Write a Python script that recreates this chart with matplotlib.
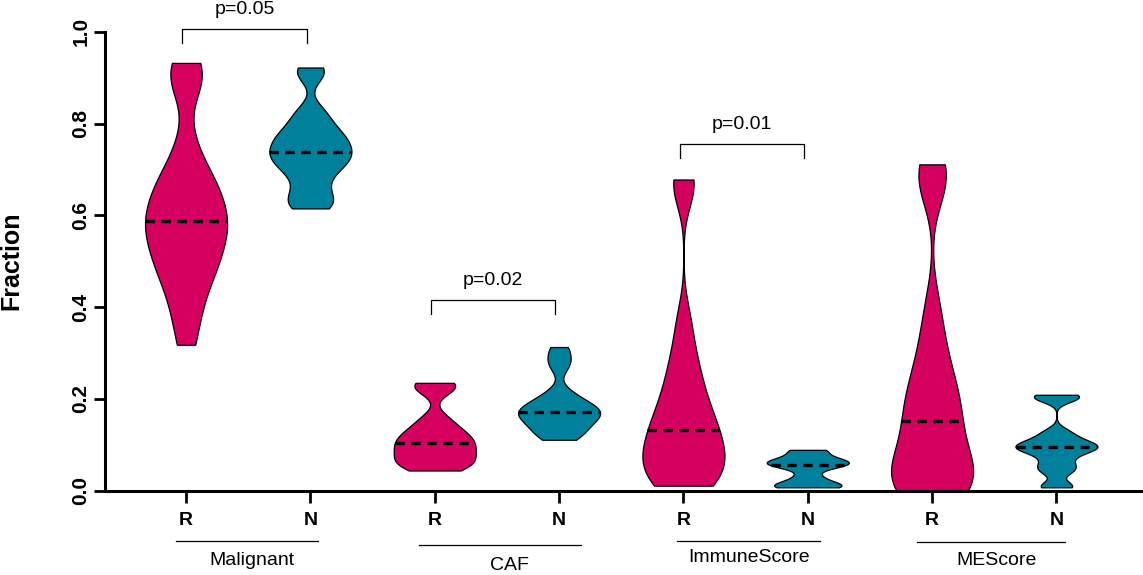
import numpy as np
import matplotlib
matplotlib.use("Agg")
import matplotlib.pyplot as plt
from matplotlib import mlab

plt.rcParams['font.family'] = ['Liberation Sans', 'DejaVu Sans']

# ---- data (fractions per sample) ----
categories = ["Malignant", "CAF", "ImmuneScore", "MEScore"]
groups = ["R", "N"]

malignant_R = [0.318, 0.38, 0.42, 0.46, 0.48, 0.50, 0.52, 0.54, 0.56, 0.575,
               0.587, 0.60, 0.62, 0.64, 0.66, 0.68, 0.70, 0.76, 0.88, 0.91, 0.932]
malignant_N = [0.615, 0.625, 0.64, 0.66, 0.685, 0.70, 0.712, 0.722, 0.73, 0.738,
               0.748, 0.758, 0.768, 0.778, 0.79, 0.81, 0.83, 0.905, 0.922]
caf_R = [0.044, 0.052, 0.058, 0.065, 0.073, 0.081, 0.09, 0.098, 0.105, 0.112,
         0.12, 0.13, 0.142, 0.16, 0.22, 0.23, 0.235]
caf_N = [0.111, 0.12, 0.13, 0.14, 0.148, 0.156, 0.163, 0.168, 0.172, 0.177,
         0.183, 0.19, 0.20, 0.215, 0.27, 0.29, 0.313]
immune_R = [0.011, 0.018, 0.028, 0.04, 0.055, 0.07, 0.085, 0.10, 0.118, 0.133,
            0.15, 0.17, 0.195, 0.225, 0.26, 0.30, 0.37, 0.66, 0.678]
immune_N = [0.0074, 0.008, 0.01, 0.014, 0.022, 0.033, 0.05, 0.055, 0.058, 0.061,
            0.064, 0.068, 0.074, 0.087, 0.089]
mescore_R = [0.0, 0.0, 0.004, 0.01, 0.02, 0.035, 0.055, 0.075, 0.095, 0.12,
             0.152, 0.17, 0.19, 0.215, 0.245, 0.28, 0.33, 0.40, 0.66, 0.69, 0.711]
mescore_N = [0.0074, 0.012, 0.04, 0.05, 0.06, 0.075, 0.085, 0.09, 0.095, 0.098,
             0.102, 0.108, 0.118, 0.13, 0.20, 0.205, 0.209]

series = [malignant_R, malignant_N, caf_R, caf_N, immune_R, immune_N, mescore_R, mescore_N]
bandwidths = [0.05, 0.022, 0.018, 0.018, 0.05, 0.009, 0.06, 0.011]

p_labels = ["p=0.05", "p=0.02", "p=0.01"]
p_pairs = [(0, 1), (2, 3), (4, 5)]
p_heights = [1.006, 0.416, 0.755]

colors = {"R": "#D5005F", "N": "#00809A"}

fig = plt.figure(figsize=(11.43, 5.75), dpi=100)
ax = fig.add_axes([105 / 1143, 1 - 490.7 / 575, (1141 - 105) / 1143, (490.7 - 31.7) / 575])

vw = 0.66
positions = np.arange(len(series))
for i, (vals, h) in enumerate(zip(series, bandwidths)):
    vals = np.asarray(vals, dtype=float)
    fac = h / np.std(vals, ddof=1)
    col = colors[groups[i % 2]]
    parts = ax.violinplot([vals], positions=[i], widths=vw, showextrema=False,
                          bw_method=fac, points=200)
    for b in parts['bodies']:
        b.set_facecolor(col)
        b.set_edgecolor('black')
        b.set_linewidth(0.9)
        b.set_alpha(1)
    kde = mlab.GaussianKDE(vals, bw_method=fac)
    ys = np.linspace(vals.min(), vals.max(), 200)
    dmax = kde.evaluate(ys).max()
    med = np.median(vals)
    half = kde.evaluate([med])[0] / dmax * vw / 2
    ax.plot([i - half, i + half], [med, med], color='black', lw=2.4,
            ls=(0, (2.8, 2.0)), solid_capstyle='butt', dash_capstyle='butt')

ax.set_xlim(-0.652, 7.68)
ax.set_ylim(0, 1.0)
for s in ['top', 'right']:
    ax.spines[s].set_visible(False)
for s in ['left', 'bottom']:
    ax.spines[s].set_linewidth(2.2)

ax.set_yticks([0, 0.2, 0.4, 0.6, 0.8, 1.0])
ax.set_yticklabels(["0.0", "0.2", "0.4", "0.6", "0.8", "1.0"], rotation=90,
                   va='center', fontsize=15, fontweight='bold')
ax.set_xticks(positions)
ax.set_xticklabels([groups[i % 2] for i in positions], fontsize=14, fontweight='bold')
ax.tick_params(axis='y', length=8, width=2, pad=2.5)
ax.tick_params(axis='x', length=8.5, width=2, pad=7)

ax.set_ylabel("Fraction", fontsize=18, fontweight='bold', labelpad=0)
ax.yaxis.set_label_coords(-0.079, 0.5)

# group underline + labels
tr = ax.get_xaxis_transform()
group_lines = [(-0.08, 1.06), (1.87, 3.18), (3.95, 5.10), (5.88, 7.07)]
group_text_x = [0.53, 2.6, 4.53, 6.52]
line_y = [-0.1096, -0.1183, -0.1096, -0.1118]
text_y = [-0.151, -0.162, -0.146, -0.151]
for (x0, x1), tx, ly, ty, name in zip(group_lines, group_text_x, line_y, text_y, categories):
    ax.plot([x0, x1], [ly, ly], transform=tr, color='black', lw=0.9, clip_on=False)
    ax.text(tx, ty, name, transform=tr, ha='center', va='center', fontsize=14)

# significance brackets
for (a, b), lab, yh in zip(p_pairs, p_labels, p_heights):
    xa, xb = a - 0.03, b - 0.03
    ax.plot([xa, xa, xb, xb], [yh - 0.03, yh, yh, yh - 0.03], color='black', lw=0.9,
            clip_on=False)
    ax.text((xa + xb) / 2, yh + 0.042, lab, ha='center', va='center', fontsize=14)

fig.savefig("out.png", dpi=100)
